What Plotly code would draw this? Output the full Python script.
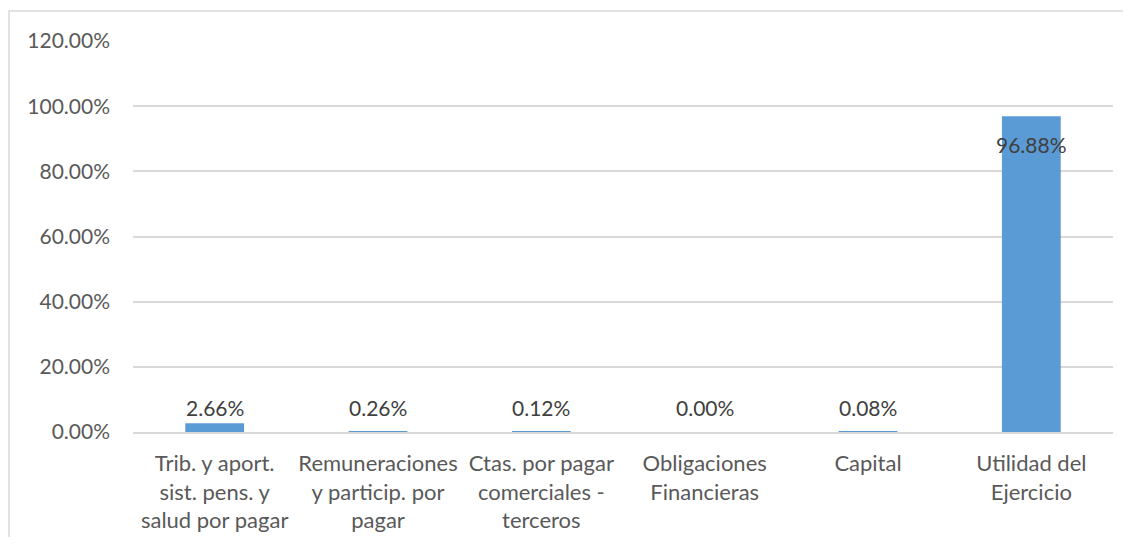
import plotly.graph_objects as go

categories = [
    "Trib. y aport.<br>sist. pens. y<br>salud por pagar",
    "Remuneraciones<br>y particip. por<br>pagar",
    "Ctas. por pagar<br>comerciales -<br>terceros",
    "Obligaciones<br>Financieras",
    "Capital",
    "Utilidad del<br>Ejercicio",
]
values = [2.66, 0.26, 0.12, 0.00, 0.08, 96.88]
value_labels = ["2.66%", "0.26%", "0.12%", "0.00%", "0.08%", "96.88%"]
y_ticks = [0, 20, 40, 60, 80, 100, 120]
y_tick_labels = ["0.00%", "20.00%", "40.00%", "60.00%", "80.00%", "100.00%", "120.00%"]

FONT = "Lato"
TXT = "#595959"
GRID = "#D9D9D9"
FS = 21

fig = go.Figure()
fig.add_trace(go.Bar(
    x=categories, y=values,
    marker=dict(color="#5B9BD5", line=dict(width=0)),
    hoverinfo="skip",
))

annotations = []
for c, v, t in zip(categories, values, value_labels):
    if v > 50:
        annotations.append(dict(x=c, y=v, xref="x", yref="y", text=t, showarrow=False,
                                yanchor="middle", yshift=-28,
                                font=dict(family=FONT, size=FS, color="#404040")))
    else:
        annotations.append(dict(x=c, y=0, xref="x", yref="y", text=t, showarrow=False,
                                yanchor="middle", yshift=25,
                                font=dict(family=FONT, size=FS, color="#404040")))

fig.update_layout(
    width=1115, height=529,
    margin=dict(l=125, r=10, t=33, b=105),
    paper_bgcolor="white", plot_bgcolor="white",
    showlegend=False,
    bargap=0.64,
    font=dict(family=FONT, size=FS, color=TXT),
    annotations=annotations,
    shapes=[dict(type="rect", xref="paper", yref="paper",
                 x0=-0.1265, x1=1.1, y0=-0.4, y1=1.0767,
                 line=dict(color=GRID, width=1.5), fillcolor="rgba(0,0,0,0)", layer="below")],
)
fig.update_xaxes(
    showgrid=False, showline=True, linecolor=GRID, linewidth=1.5,
    ticks="", tickfont=dict(family=FONT, size=22, color=TXT),
    ticklabelstandoff=11, fixedrange=True, automargin=False,
)
fig.update_yaxes(
    range=[0, 120], tickvals=y_ticks, ticktext=y_tick_labels,
    showgrid=True, gridcolor=GRID, gridwidth=1.5, zeroline=False, showline=False,
    ticks="", tickfont=dict(family=FONT, size=FS, color=TXT),
    ticklabelstandoff=22, fixedrange=True, automargin=False,
)

fig.write_html("out.html", config={"displayModeBar": False})
